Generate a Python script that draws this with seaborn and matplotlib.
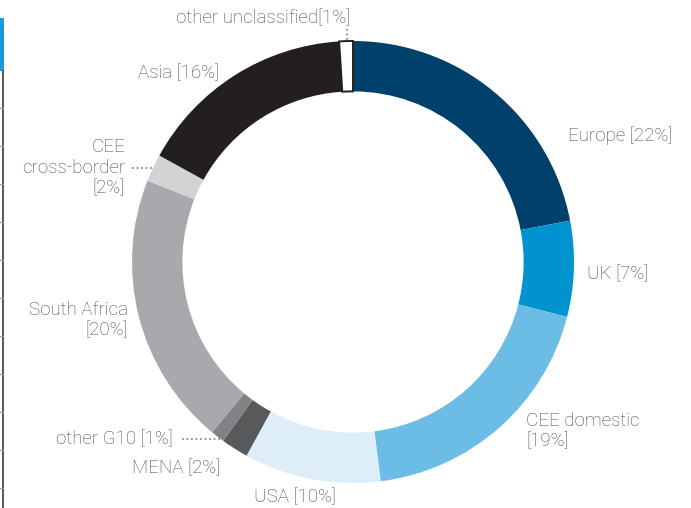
import matplotlib
matplotlib.use("Agg")
import matplotlib.pyplot as plt
from matplotlib.lines import Line2D
from matplotlib.patches import Rectangle
import seaborn as sns

# data (share of total, %)
regions = ["Europe", "UK", "CEE domestic", "USA", "MENA", "other G10",
           "South Africa", "CEE cross-border", "Asia", "other unclassified"]
shares = [22, 7, 19, 10, 2, 1, 20, 2, 16, 1]
label_texts = ["Europe [22%]", "UK [7%]", "CEE domestic\n[19%]", "USA [10%]",
               "MENA [2%]", "other G10 [1%]", "South Africa\n[20%]",
               "CEE\ncross-border\n[2%]", "Asia [16%]", "other unclassified[1%]"]
colors = ["#00416b", "#0093d0", "#6cbde6", "#ddeef8", "#58595b", "#808285",
          "#a7a9ac", "#d1d3d4", "#231f20", "#ffffff"]

sns.set_theme(style="white")
plt.rcParams['font.family'] = ['Roboto', 'DejaVu Sans']

W, H = 691, 508
CX, CY, R = 353, 262, 221
fig = plt.figure(figsize=(W / 100, H / 100), dpi=100)
ax = fig.add_axes([0, 0, 1, 1])

wedges, _ = ax.pie(shares, startangle=90, counterclock=False, colors=colors,
                   radius=1, wedgeprops=dict(width=0.228, linewidth=0))
wedges[-1].set_edgecolor("#231f20")
wedges[-1].set_linewidth(1.4)

ax.set_xlim(-CX / R, (W - CX) / R)
ax.set_ylim(-(H - CY) / R, CY / R)
ax.set_aspect("equal")
ax.axis("off")


def px(x, y):
    return (x - CX) / R, (CY - y) / R


txt = "#46474a"
fs = 13.5
# label layout: (pixel x, pixel y, horizontal alignment)
label_pos = [(568, 136, "left"), (587, 274, "left"), (526, 431, "left"),
             (295, 497, "center"), (220, 468, "right"), (173, 439, "right"),
             (128, 320, "right"), (125, 168, "right"), (219, 73, "right"),
             (263, 18, "center")]
for t, (x, y, ha) in zip(label_texts, label_pos):
    ax.text(*px(x, y), t, ha=ha, va="center", fontsize=fs, color=txt,
            fontweight="light", linespacing=1.18, multialignment=ha)

# dotted leader lines
dot = dict(color="#8a8b8e", lw=1.3, ls=(0, (1, 1.5)))
ax.plot(*zip(px(132, 168), px(152, 168)), **dot)
ax.plot(*zip(px(182, 439), px(222, 439)), **dot)
ax.plot(*zip(px(347, 29), px(347, 40)), **dot)

# page decoration on the left edge
fig.add_artist(Rectangle((0, 1 - 71 / H), 3.5 / W, 53 / H, color="#1a9ad6",
                         transform=fig.transFigure, lw=0))
fig.add_artist(Line2D([2.5 / W, 2.5 / W], [0, 1 - 71 / H], color="#3a3a3c",
                      lw=1.2, transform=fig.transFigure))
for ty in range(108, 508, 38):
    fig.add_artist(Line2D([0, 2.5 / W], [1 - ty / H, 1 - ty / H],
                          color="#9a9a9a", lw=1, transform=fig.transFigure))

fig.savefig("out.png", dpi=100)
